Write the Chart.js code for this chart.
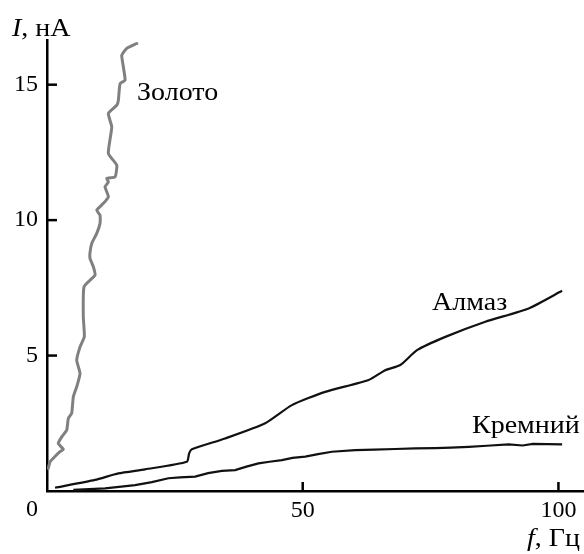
<!DOCTYPE html>
<html><head><meta charset="utf-8">
<script src="https://cdn.jsdelivr.net/npm/chart.js@4/dist/chart.umd.min.js"></script>
<style>html,body{margin:0;padding:0;background:#fff}#wrap{width:584px;height:554px}</style>
</head><body><div id="wrap"><canvas id="c" width="584" height="554"></canvas></div>
<script>
// Золото (gold)
const goldF = [0.25,0.59,1.23,2.54,3.19,2.21,2.88,3.86,4.17,4.83,5.15,5.81,6.46,5.81,6.46,7.30,7.10,7.24,9.39,9.06,8.41,8.41,8.75,9.73,10.37,10.37,9.73,11.02,12.0,11.35,12.0,11.68,13.31,13.64,12.0,12.66,12.0,13.64,13.95,14.29,15.26,14.93,14.62,15.60,17.55];
const goldI = [0.84,1.08,1.21,1.45,1.54,1.76,2.00,2.25,2.68,2.87,3.48,3.85,4.34,4.83,5.32,5.70,6.43,7.54,7.97,8.28,8.59,8.80,9.14,9.51,9.88,10.18,10.37,10.62,10.86,11.23,11.41,11.54,11.60,12.03,12.46,13.44,13.94,14.24,14.42,15.04,15.17,15.66,16.09,16.34,16.52];
// Алмаз (diamond)
const diamondF = [1.57,9.39,13.95,19.18,27.34,27.79,28.32,34.83,42.66,47.89,54.40,62.88,66.14,69.08,72.35,77.89,85.71,94.19,100.72];
const diamondI = [0.12,0.41,0.65,0.80,1.08,1.39,1.54,1.94,2.50,3.17,3.66,4.10,4.46,4.65,5.20,5.69,6.25,6.74,7.39];
// Кремний (silicon)
const siliconF = [5.15,11.35,17.22,20.5,23.74,26.0,28.96,31.5,34.19,36.79,39.0,41.35,43.5,45.93,48.0,50.49,53.0,55.71,60.27,64.0,68.10,72.0,75.93,79.0,82.45,86.0,90.27,93.0,95.0,100.72];
const siliconI = [0.04,0.10,0.22,0.33,0.47,0.50,0.53,0.66,0.74,0.77,0.90,1.02,1.08,1.14,1.22,1.27,1.36,1.45,1.51,1.53,1.55,1.57,1.58,1.60,1.63,1.67,1.72,1.68,1.74,1.72];

const xTicks = [0, 50, 100];
const yTicks = [5, 10, 15];
const curveLabels = ['Золото', 'Алмаз', 'Кремний'];
const labelF = [17.6, 75.3, 83.1];
const labelI = [14.45, 6.68, 2.14];

const toPts = (xs, ys) => xs.map((x, i) => ({x: x, y: ys[i]}));
const FONT = '"Liberation Serif", "Times New Roman", serif';
const SX = 1.12;

const overlay = {
  id: 'overlay',
  afterDraw(chart) {
    const ctx = chart.ctx;
    const xs = chart.scales.x, ys = chart.scales.y;
    const a = chart.chartArea;
    ctx.save();
    ctx.strokeStyle = '#000';
    ctx.lineWidth = 2.5;
    // inner tick marks
    yTicks.forEach(v => {
      const py = ys.getPixelForValue(v);
      ctx.beginPath(); ctx.moveTo(a.left, py); ctx.lineTo(a.left + 10, py); ctx.stroke();
    });
    xTicks.forEach(v => {
      if (v === 0) return;
      const px = xs.getPixelForValue(v);
      ctx.beginPath(); ctx.moveTo(px, a.bottom); ctx.lineTo(px, a.bottom - 9); ctx.stroke();
    });
    ctx.fillStyle = '#000';
    // shared origin label
    ctx.font = '24px ' + FONT;
    ctx.textAlign = 'right';
    ctx.textBaseline = 'middle';
    ctx.fillText('0', a.left - 9, a.bottom + 19);
    ctx.textAlign = 'left';
    ctx.textBaseline = 'alphabetic';
    // stretched text (italic symbol + regular rest)
    function txt(x, y, it, rest, alignRight) {
      ctx.font = 'italic 25px ' + FONT;
      const w1 = it ? ctx.measureText(it).width : 0;
      ctx.font = '25px ' + FONT;
      const w2 = ctx.measureText(rest).width;
      const total = (w1 + w2) * SX;
      const x0 = alignRight ? x - total : x;
      ctx.save();
      ctx.translate(x0, y);
      ctx.scale(SX, 1);
      if (it) { ctx.font = 'italic 25px ' + FONT; ctx.fillText(it, 0, 0); }
      ctx.font = '25px ' + FONT;
      ctx.fillText(rest, w1, 0);
      ctx.restore();
    }
    txt(a.left - 35, a.top - 4, 'I', ', нА', false);
    txt(a.right - 4, a.bottom + 55, 'f', ', Гц', true);
    curveLabels.forEach((t, i) => {
      txt(xs.getPixelForValue(labelF[i]), ys.getPixelForValue(labelI[i]), '', t, false);
    });
    ctx.restore();
  }
};

new Chart(document.getElementById('c').getContext('2d'), {
  type: 'scatter',
  data: {
    datasets: [
      {data: toPts(goldF, goldI), showLine: true, borderColor: '#808080', borderWidth: 3, pointRadius: 0, tension: 0.15, borderJoinStyle: 'round', borderCapStyle: 'round'},
      {data: toPts(diamondF, diamondI), showLine: true, borderColor: '#111', borderWidth: 2.2, pointRadius: 0, tension: 0.2},
      {data: toPts(siliconF, siliconI), showLine: true, borderColor: '#111', borderWidth: 2.2, pointRadius: 0, tension: 0}
    ]
  },
  options: {
    responsive: false,
    animation: false,
    layout: {padding: {top: 40, left: 0, right: 0, bottom: 0}},
    plugins: {legend: {display: false}, tooltip: {enabled: false}},
    scales: {
      x: {
        type: 'linear', min: 0, max: 105,
        afterBuildTicks: s => { s.ticks = xTicks.map(v => ({value: v})); },
        afterFit: s => { s.height = 63; },
        grid: {display: false, drawTicks: false},
        border: {display: true, color: '#000', width: 2.5},
        ticks: {color: '#000', font: {family: FONT, size: 24}, padding: 5, maxRotation: 0, autoSkip: false,
          callback: v => (v === 0 ? '' : String(v))}
      },
      y: {
        type: 'linear', min: 0, max: 16.65,
        afterBuildTicks: s => { s.ticks = yTicks.map(v => ({value: v})); },
        afterFit: s => { s.width = 47; },
        grid: {display: false, drawTicks: false},
        border: {display: true, color: '#000', width: 2.5},
        ticks: {color: '#000', font: {family: FONT, size: 24}, padding: 9, autoSkip: false,
          callback: v => String(v)}
      }
    }
  },
  plugins: [overlay]
});
</script>
</body></html>
